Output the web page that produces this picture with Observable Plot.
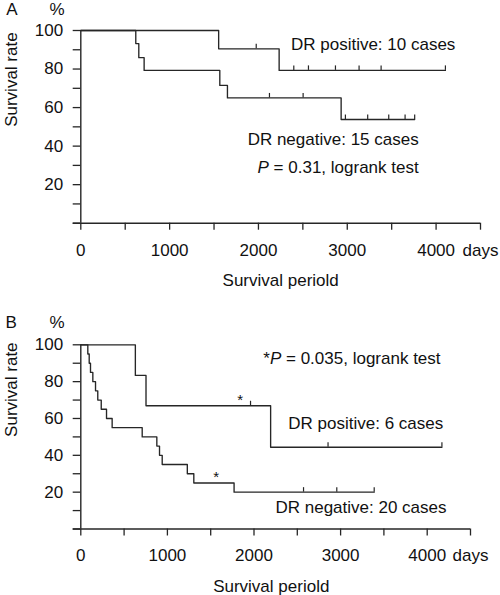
<!DOCTYPE html>
<html>
<head>
<meta charset="utf-8">
<script src="https://cdn.jsdelivr.net/npm/d3@7"></script>
<script src="https://cdn.jsdelivr.net/npm/@observablehq/plot@0.6"></script>
<style>
  html, body { margin: 0; padding: 0; background: #fff; }
  #chart { width: 500px; }
  #chart svg { display: block; }
</style>
</head>
<body>
<div id="chart"></div>
<script>
// ---------- Data ----------
// Panel A
const aPosTime = [0, 1552, 2233, 4105];
const aPosSurv = [100, 90.5, 79.3, 79.3];
const aPosCensTime = [1975, 2398, 2563, 2867, 3133, 3381, 4105];
const aPosCensSurv = [90.5, 79.3, 79.3, 79.3, 79.3, 79.3, 79.3];

const aNegTime = [0, 619, 653, 713, 1565, 1651, 2931, 3759];
const aNegSurv = [100, 93.2, 85.9, 79.3, 71.5, 65, 53.8, 53.8];
const aNegCensTime = [2124, 2503, 2979, 3230, 3467, 3651, 3759];
const aNegCensSurv = [65, 65, 53.8, 53.8, 53.8, 53.8, 53.8];

// Panel B
const bPosTime = [0, 630, 753, 2192, 4170];
const bPosSurv = [100, 83.4, 66.9, 44.4, 44.4];
const bPosCensTime = [1960, 2855, 4170];
const bPosCensSurv = [66.9, 44.4, 44.4];

const bNegTime = [0, 81, 97, 112, 139, 170, 196, 236, 297, 362, 709, 878, 909, 940, 1230, 1305, 1770, 3388];
const bNegSurv = [100, 95, 90, 85, 80, 75, 70, 65, 60, 55, 50, 45, 40, 35, 30, 25, 20, 20];
const bNegCensTime = [2572, 2956, 3388];
const bNegCensSurv = [20, 20, 20];

// Axis ticks and labels
const xTicks = d3.range(0, 4501, 500);
const xTickLabels = ["0", "", "1000", "", "2000", "", "3000", "", "4000", "days"];
const yTicks = d3.range(0, 101, 10);
const yTickLabels = ["", "", "20", "", "40", "", "60", "", "80", "", "100"];

const panelLetters = ["A", "B"];
const yUnit = "%";
const xTitle = "Survival periold";
const yTitle = "Survival rate";
const aLabels = ["DR positive: 10 cases", "DR negative: 15 cases", "P = 0.31, logrank test"];
const bLabels = ["*P = 0.035, logrank test", "DR positive: 6 cases", "DR negative: 20 cases"];
const star = "*";

// ---------- Helpers ----------
const zip = (t, s) => t.map((d, i) => ({t: d, s: s[i]}));
const INK = "#262626";
const FONT = "'Liberation Sans', Arial, Helvetica, sans-serif";

function survivalMarks(curves) {
  const marks = [];
  for (const c of curves) {
    marks.push(Plot.line(zip(c.time, c.surv), {x: "t", y: "s", curve: "step-after", stroke: INK, strokeWidth: 1.35}));
    marks.push(Plot.ruleX(zip(c.censTime, c.censSurv), {x: "t", y1: "s", y2: "s", insetTop: -4.5, stroke: INK, strokeWidth: 1.2}));
  }
  return marks;
}

function axesMarks() {
  return [
    Plot.axisY({ticks: yTicks, tickFormat: (d) => yTickLabels[yTicks.indexOf(d)], tickSize: 7.6, tickPadding: 10, stroke: INK, strokeWidth: 1.3, label: null, fill: "#111"}),
    Plot.axisX({ticks: xTicks, tickFormat: (d) => xTickLabels[xTicks.indexOf(d)], tickSize: 7, tickPadding: 13.4, stroke: INK, strokeWidth: 1.3, label: null, fill: "#111"}),
    Plot.ruleX([0], {stroke: INK, strokeWidth: 1.4}),
    Plot.ruleY([0], {insetLeft: -7.6, stroke: INK, strokeWidth: 1.4})
  ];
}

function italicizeP(svg, strings) {
  d3.select(svg).selectAll("text").filter(function () { return strings.includes(this.textContent); }).each(function () {
    const full = this.textContent;
    const k = full.indexOf("P");
    const sel = d3.select(this);
    sel.text(null);
    if (k > 0) sel.append("tspan").text(full.slice(0, k));
    sel.append("tspan").attr("font-style", "italic").text("P");
    sel.append("tspan").text(full.slice(k + 1));
  });
}

// ---------- Panel A ----------
const plotA = Plot.plot({
  width: 500,
  height: 295,
  marginLeft: 80.3,
  marginRight: 20,
  marginTop: 30,
  marginBottom: 72.3,
  x: {domain: [0, 4500]},
  y: {domain: [0, 100]},
  style: {fontFamily: FONT, fontSize: "17px", color: INK, background: "white", overflow: "visible"},
  marks: [
    ...axesMarks(),
    ...survivalMarks([
      {time: aPosTime, surv: aPosSurv, censTime: aPosCensTime, censSurv: aPosCensSurv},
      {time: aNegTime, surv: aNegSurv, censTime: aNegCensTime, censSurv: aNegCensSurv}
    ]),
    Plot.text([aLabels[0]], {x: 4217, y: 92.6, textAnchor: "end", lineAnchor: "middle", fill: "#111"}),
    Plot.text([aLabels[1]], {x: 3804, y: 43.2, textAnchor: "end", lineAnchor: "middle", fill: "#111"}),
    Plot.text([aLabels[2]], {x: 3804, y: 29.0, textAnchor: "end", lineAnchor: "middle", fill: "#111"}),
    Plot.text([panelLetters[0]], {frameAnchor: "top-left", dx: -74.5, dy: -27.6, lineAnchor: "top", fill: "#111"}),
    Plot.text([yUnit], {frameAnchor: "top-left", dx: -31.3, dy: -27.6, lineAnchor: "top", fill: "#111"}),
    Plot.text([yTitle], {frameAnchor: "left", rotate: -90, dx: -69, lineAnchor: "middle", fill: "#111"}),
    Plot.text([xTitle], {frameAnchor: "bottom", dy: 57.3, lineAnchor: "middle", fill: "#111"})
  ]
});

// ---------- Panel B ----------
const plotB = Plot.plot({
  width: 500,
  height: 300,
  marginLeft: 80.3,
  marginRight: 30,
  marginTop: 49.3,
  marginBottom: 66.5,
  x: {domain: [0, 4500]},
  y: {domain: [0, 100]},
  style: {fontFamily: FONT, fontSize: "17px", color: INK, background: "white", overflow: "visible"},
  marks: [
    ...axesMarks(),
    ...survivalMarks([
      {time: bPosTime, surv: bPosSurv, censTime: bPosCensTime, censSurv: bPosCensSurv},
      {time: bNegTime, surv: bNegSurv, censTime: bNegCensTime, censSurv: bNegCensSurv}
    ]),
    Plot.text([bLabels[0]], {x: 4154, y: 92.7, textAnchor: "end", lineAnchor: "middle", fill: "#111"}),
    Plot.text([bLabels[1]], {x: 4185, y: 57.5, textAnchor: "end", lineAnchor: "middle", fill: "#111"}),
    Plot.text([bLabels[2]], {x: 4223, y: 11.5, textAnchor: "end", lineAnchor: "middle", fill: "#111"}),
    Plot.text([star], {x: 1840, y: 70.2, lineAnchor: "middle", fontSize: 15, fill: "#111"}),
    Plot.text([star], {x: 1563, y: 28.0, lineAnchor: "middle", fontSize: 15, fill: "#111"}),
    Plot.text([panelLetters[1]], {frameAnchor: "top-left", dx: -75.3, dy: -28.8, lineAnchor: "top", fill: "#111"}),
    Plot.text([yUnit], {frameAnchor: "top-left", dx: -31.3, dy: -28.8, lineAnchor: "top", fill: "#111"}),
    Plot.text([yTitle], {frameAnchor: "left", rotate: -90, dx: -69, lineAnchor: "middle", fill: "#111"}),
    Plot.text([xTitle], {frameAnchor: "bottom", dx: -4.4, dy: 57.2, lineAnchor: "middle", fill: "#111"})
  ]
});

italicizeP(plotA, [aLabels[2]]);
italicizeP(plotB, [bLabels[0]]);

const chart = document.getElementById("chart");
chart.appendChild(plotA);
chart.appendChild(plotB);
</script>
</body>
</html>
